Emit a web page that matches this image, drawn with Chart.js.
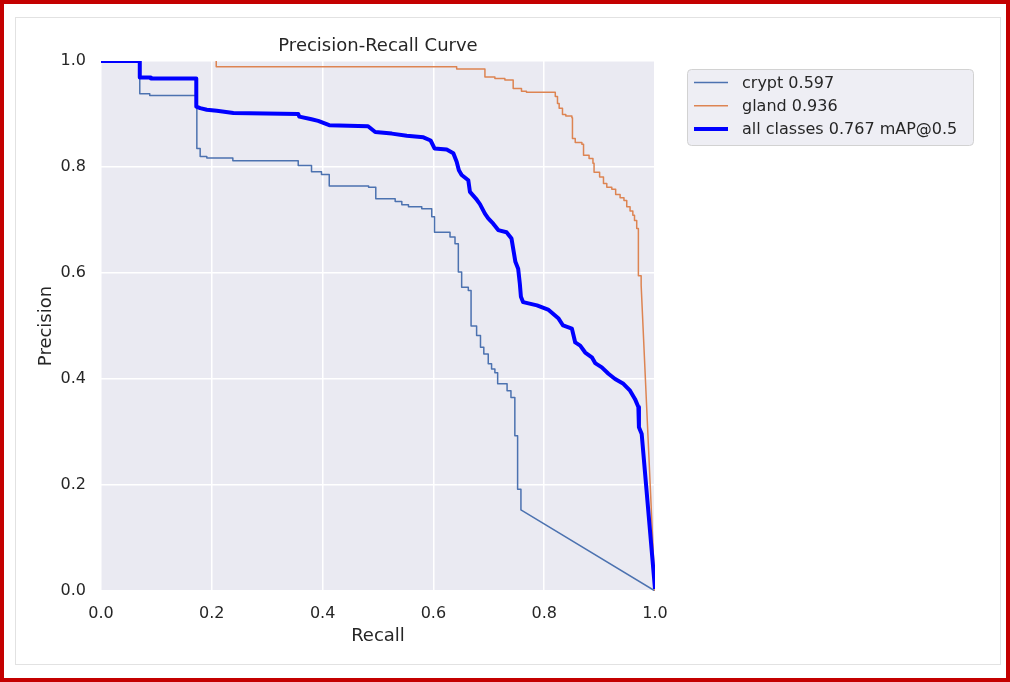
<!DOCTYPE html>
<html lang="en">
<head>
    <meta charset="UTF-8">
    <title>Precision-Recall Curve</title>
    <script src="https://cdn.jsdelivr.net/npm/chart.js@4/dist/chart.umd.min.js"></script>
    <style>
        body { margin: 0; background: #fff; }
    </style>
</head>
<body>
    <canvas id="wykres" width="1010" height="682"></canvas>
    <script>
        // class curves: recall where precision drops, precision after the drop
        const cryptStart = [0, 1.0];
        const cryptStepRecall = [0.070, 0.088, 0.173, 0.179, 0.191, 0.238, 0.356, 0.380, 0.398, 0.412,
            0.483, 0.496, 0.531, 0.543, 0.555, 0.579, 0.597, 0.602, 0.630, 0.639,
            0.645, 0.651, 0.663, 0.668, 0.678, 0.685, 0.691, 0.699, 0.705, 0.711,
            0.716, 0.733, 0.740, 0.747, 0.752, 0.758];
        const cryptStepPrecision = [0.938, 0.935, 0.835, 0.820, 0.817, 0.812, 0.803, 0.791, 0.786, 0.764,
            0.762, 0.740, 0.735, 0.729, 0.725, 0.721, 0.706, 0.677, 0.668, 0.655,
            0.602, 0.573, 0.567, 0.500, 0.482, 0.460, 0.447, 0.429, 0.419, 0.412,
            0.391, 0.378, 0.365, 0.293, 0.192, 0.153];
        const cryptEnd = [1.0, 0.0];

        const glandStart = [0.208, 1.0];
        const glandStepRecall = [0.208, 0.642, 0.693, 0.711, 0.729, 0.744, 0.759, 0.768, 0.820, 0.824,
            0.827, 0.833, 0.839, 0.850, 0.851, 0.856, 0.868, 0.871, 0.881, 0.888,
            0.890, 0.900, 0.907, 0.913, 0.922, 0.929, 0.937, 0.944, 0.949, 0.955,
            0.960, 0.963, 0.967, 0.970, 0.975];
        const glandStepPrecision = [0.989, 0.985, 0.970, 0.967, 0.964, 0.948, 0.943, 0.941, 0.933, 0.920,
            0.911, 0.899, 0.896, 0.893, 0.854, 0.846, 0.843, 0.822, 0.816, 0.807,
            0.790, 0.781, 0.769, 0.762, 0.758, 0.748, 0.742, 0.737, 0.725, 0.717,
            0.709, 0.699, 0.684, 0.595, 0.577];
        const glandEnd = [1.0, 0.0];

        // mean curve, as a plain polyline
        const allRecall = [0, 0.070, 0.070, 0.090, 0.090, 0.172, 0.172, 0.179, 0.191, 0.209,
            0.239, 0.356, 0.358, 0.380, 0.392, 0.412, 0.482, 0.495, 0.525, 0.552,
            0.582, 0.595, 0.602, 0.624, 0.636, 0.642, 0.646, 0.651, 0.663, 0.666,
            0.677, 0.684, 0.693, 0.699, 0.708, 0.717, 0.732, 0.741, 0.745, 0.748,
            0.753, 0.756, 0.758, 0.762, 0.787, 0.807, 0.826, 0.834, 0.850, 0.856,
            0.865, 0.874, 0.886, 0.892, 0.904, 0.916, 0.928, 0.943, 0.955, 0.964,
            0.970, 0.971, 0.976, 1.0];
        const allPrecision = [1.0, 1.0, 0.969, 0.969, 0.967, 0.967, 0.914, 0.911, 0.908, 0.906,
            0.902, 0.900, 0.895, 0.890, 0.887, 0.879, 0.877, 0.866, 0.863, 0.859,
            0.856, 0.850, 0.835, 0.833, 0.826, 0.810, 0.794, 0.785, 0.775, 0.753,
            0.740, 0.730, 0.712, 0.703, 0.693, 0.681, 0.677, 0.665, 0.640, 0.621,
            0.608, 0.580, 0.555, 0.545, 0.539, 0.531, 0.514, 0.501, 0.495, 0.469,
            0.463, 0.450, 0.441, 0.430, 0.422, 0.410, 0.400, 0.391, 0.378, 0.362,
            0.347, 0.309, 0.296, 0.004];

        const labels = ["crypt 0.597", "gland 0.936", "all classes 0.767 mAP@0.5"];
        const tickValues = [0, 0.2, 0.4, 0.6, 0.8, 1.0];

        function stepPoints(start, rs, ps, end)
        {
            let pts = [{ x: start[0], y: start[1] }];
            let prev = start[1];
            for (let i = 0; i < rs.length; i++)
            {
                pts.push({ x: rs[i], y: prev });
                pts.push({ x: rs[i], y: ps[i] });
                prev = ps[i];
            }
            pts.push({ x: end[0], y: end[1] });
            return pts;
        }

        const textColor = "#262626";
        Chart.defaults.font.family = "'DejaVu Sans', sans-serif";
        Chart.defaults.color = textColor;

        const frame = {
            id: "frame",
            beforeDraw(chart) {
                const ctx = chart.ctx;
                const a = chart.chartArea;
                ctx.save();
                ctx.fillStyle = "#ffffff";
                ctx.fillRect(0, 0, chart.width, chart.height);
                ctx.strokeStyle = "#c40000";
                ctx.lineWidth = 4;
                ctx.strokeRect(2, 2, chart.width - 4, chart.height - 4);
                ctx.strokeStyle = "#e2e2e2";
                ctx.lineWidth = 1;
                ctx.strokeRect(15.5, 17.5, 985, 647);
                ctx.fillStyle = "#eaeaf2";
                ctx.fillRect(a.left, a.top, a.right - a.left, a.bottom - a.top);
                ctx.restore();
            }
        };

        const boxLegend = {
            id: "boxLegend",
            afterDraw(chart) {
                const ctx = chart.ctx;
                ctx.save();
                ctx.beginPath();
                ctx.roundRect(687.5, 69.5, 286, 76, 4);
                ctx.fillStyle = "#eeeef4";
                ctx.fill();
                ctx.strokeStyle = "#d2d2d2";
                ctx.lineWidth = 1;
                ctx.stroke();
                ctx.font = "16px 'DejaVu Sans'";
                ctx.textBaseline = "middle";
                ctx.fillStyle = textColor;
                chart.data.datasets.forEach((ds, i) => {
                    const y = 82.5 + i * 23.2;
                    ctx.beginPath();
                    ctx.strokeStyle = ds.borderColor;
                    ctx.lineWidth = ds.borderWidth;
                    ctx.moveTo(694, y);
                    ctx.lineTo(728, y);
                    ctx.stroke();
                    ctx.fillText(ds.label, 742, y + 1);
                });
                ctx.restore();
            }
        };

        const dane = {
            datasets: [
                {
                    label: labels[0],
                    data: stepPoints(cryptStart, cryptStepRecall, cryptStepPrecision, cryptEnd),
                    borderColor: "#4c72b0",
                    borderWidth: 1.5,
                    order: 3
                },
                {
                    label: labels[1],
                    data: stepPoints(glandStart, glandStepRecall, glandStepPrecision, glandEnd),
                    borderColor: "#dd8452",
                    borderWidth: 1.5,
                    order: 2
                },
                {
                    label: labels[2],
                    data: allRecall.map((r, i) => ({ x: r, y: allPrecision[i] })),
                    borderColor: "#0000ff",
                    borderWidth: 4,
                    order: 1
                }
            ]
        };

        function axis(title, extra)
        {
            return Object.assign({
                type: "linear",
                min: 0,
                max: 1,
                afterBuildTicks: (s) => { s.ticks = tickValues.map(v => ({ value: v })); },
                ticks: {
                    font: { size: 16 },
                    color: textColor,
                    callback: (v) => Number(v).toFixed(1)
                },
                grid: { color: "#ffffff", lineWidth: 1.5, drawTicks: false },
                border: { display: false },
                title: { display: true, text: title, font: { size: 18 }, color: textColor }
            }, extra);
        }

        const ctx = document.getElementById("wykres").getContext("2d");
        const wykres = new Chart(ctx, {
            type: "scatter",
            data: dane,
            plugins: [frame, boxLegend],
            options: {
                responsive: false,
                animation: false,
                showLine: true,
                clip: 0,
                elements: { point: { radius: 0, hoverRadius: 0 }, line: { tension: 0, borderJoinStyle: "round" } },
                layout: { padding: { left: 16, right: 355, top: 31, bottom: 19 } },
                plugins: {
                    legend: { display: false },
                    tooltip: { enabled: false },
                    title: {
                        display: true,
                        text: "Precision-Recall Curve",
                        fullSize: false,
                        font: { size: 18, weight: "normal" },
                        color: textColor,
                        padding: { top: 5, bottom: 3.4 }
                    }
                },
                scales: {
                    x: axis("Recall", {
                        afterFit: (s) => { s.height = 72; }
                    }),
                    y: axis("Precision", {
                        afterFit: (s) => { s.width = 85; }
                    })
                }
            }
        });
        wykres.options.scales.x.ticks.padding = 13;
        wykres.options.scales.x.title.padding = { top: 0, bottom: 16 };
        wykres.options.scales.y.ticks.padding = 15;
        wykres.options.scales.y.title.padding = { top: 20, bottom: 0 };
        wykres.update();
    </script>
</body>
</html>
